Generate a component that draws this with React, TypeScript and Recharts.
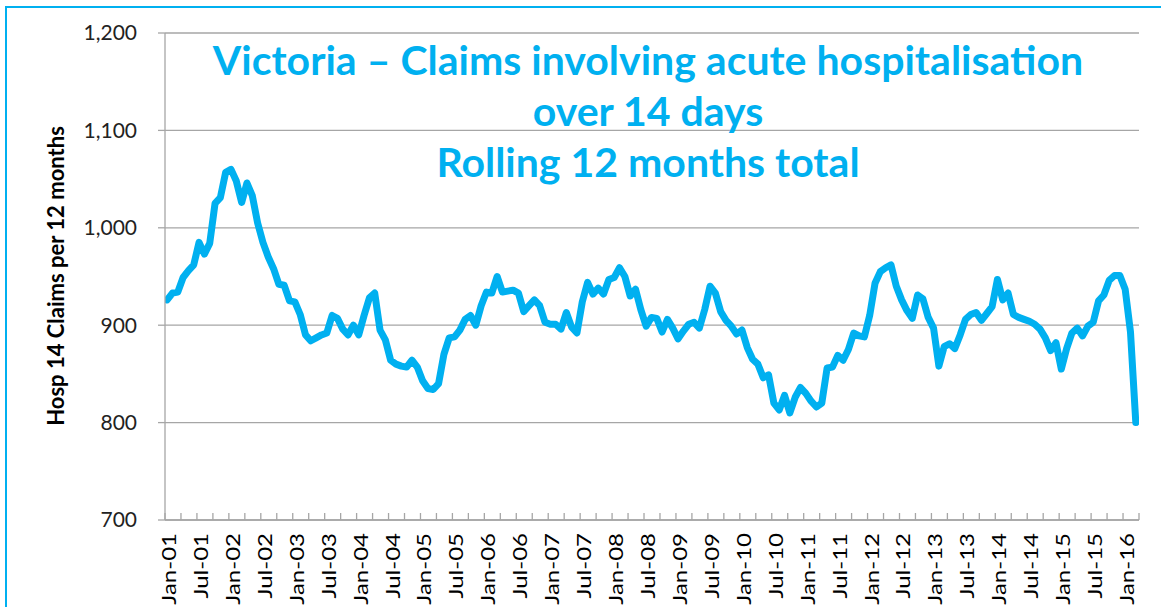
import { LineChart, Line, XAxis, YAxis, CartesianGrid } from 'recharts';

const CYAN = '#00b0f0';
const GRID = '#a6a6a6';
const FONT = 'Lato, "Open Sans", sans-serif';

// month labels shown on the axis, every 6 months
const tickLabels = [
  'Jan-01', 'Jul-01', 'Jan-02', 'Jul-02', 'Jan-03', 'Jul-03', 'Jan-04', 'Jul-04',
  'Jan-05', 'Jul-05', 'Jan-06', 'Jul-06', 'Jan-07', 'Jul-07', 'Jan-08', 'Jul-08',
  'Jan-09', 'Jul-09', 'Jan-10', 'Jul-10', 'Jan-11', 'Jul-11', 'Jan-12', 'Jul-12',
  'Jan-13', 'Jul-13', 'Jan-14', 'Jul-14', 'Jan-15', 'Jul-15', 'Jan-16',
];

// rolling 12 month totals, Jan-01 .. Mar-16
const hospClaims = [
  926, 933, 934, 949, 956, 962, 985, 973, 984, 1025, 1031, 1057,
  1060, 1048, 1026, 1046, 1033, 1005, 985, 970, 958, 942, 941, 925,
  924, 911, 890, 884, 887, 890, 892, 910, 907, 896, 890, 900,
  890, 910, 928, 933, 895, 885, 864, 860, 858, 857, 864, 857,
  843, 835, 834, 840, 870, 887, 888, 895, 906, 910, 900, 920,
  934, 933, 950, 934, 935, 936, 933, 914, 920, 926, 920, 903,
  901, 901, 896, 913, 898, 892, 924, 944, 932, 938, 932, 947,
  949, 959, 950, 930, 937, 916, 899, 908, 907, 893, 906, 897,
  886, 894, 901, 903, 897, 916, 940, 933, 914, 905, 899, 891,
  895, 877, 865, 860, 846, 849, 820, 813, 828, 810, 826, 836,
  830, 822, 816, 820, 856, 857, 869, 864, 875, 892, 889, 888,
  910, 943, 955, 959, 962, 940, 926, 915, 907, 931, 927, 908,
  897, 858, 878, 881, 876, 890, 906, 911, 913, 905, 912, 919,
  947, 926, 933, 911, 908, 906, 904, 901, 896, 887, 874, 882,
  855, 876, 892, 897, 889, 899, 903, 925, 931, 946, 951, 951,
  937, 893, 800,
];

const yTicks = [700, 800, 900, 1000, 1100, 1200];

const data = hospClaims.map((v, i) => ({ i, v }));

// tick marks every quarter, starting half a slot before the first month
const xTicks = Array.from({ length: 62 }, (_, k) => -0.4 + 3 * k);

function MonthTick(props: any) {
  const { x, y, payload } = props;
  const k = Math.round((payload.value + 0.4) / 3);
  const label = k % 2 === 0 ? tickLabels[k / 2] : null;
  return (
    <g>
      <line x1={x} y1={y} x2={x} y2={y - 7} stroke={GRID} strokeWidth={1.3} />
      {label && (
        <text
          transform={`translate(${x + 11},${y + 13}) rotate(-90) scale(1.2, 1)`}
          textAnchor="end"
          fontSize={20}
          fontFamily={FONT}
          fill="#000"
        >
          {label}
        </text>
      )}
    </g>
  );
}

export default function App() {
  return (
    <div
      style={{
        position: 'fixed',
        left: 0,
        top: 0,
        width: 1161,
        height: 607,
        overflow: 'hidden',
        background: '#fff',
        fontFamily: FONT,
      }}
    >
      <div
        style={{
          position: 'absolute',
          left: 5,
          top: 6,
          width: 1400,
          height: 900,
          border: `2px solid ${CYAN}`,
        }}
      />
      <div style={{ position: 'absolute', left: 0, top: 0 }}>
        <LineChart width={1161} height={607} data={data} margin={{ top: 33, right: 22, left: 85, bottom: 27 }}>
          <CartesianGrid vertical={false} stroke={GRID} strokeWidth={1.3} />
          <XAxis
            dataKey="i"
            type="number"
            domain={[-0.4, 182.6]}
            ticks={xTicks}
            interval={0}
            tickSize={0}
            tickMargin={0}
            tickLine={false}
            axisLine={{ stroke: GRID, strokeWidth: 1.3 }}
            tick={<MonthTick />}
            height={60}
            allowDataOverflow
          />
          <YAxis
            domain={[700, 1200]}
            ticks={yTicks}
            width={80}
            tickSize={7}
            tickMargin={21}
            tickLine={{ stroke: GRID, strokeWidth: 1.3 }}
            axisLine={{ stroke: GRID, strokeWidth: 1.3 }}
            tick={{ fill: '#222', fontSize: 21, fontFamily: FONT }}
            tickFormatter={(v) => Number(v).toLocaleString('en-US')}
          />
          <Line
            dataKey="v"
            type="linear"
            stroke={CYAN}
            strokeWidth={7}
            strokeLinejoin="round"
            strokeLinecap="round"
            dot={false}
            isAnimationActive={false}
          />
        </LineChart>
      </div>
      <div
        style={{
          position: 'absolute',
          left: 648,
          top: 34,
          transform: 'translateX(-50%)',
          color: CYAN,
          fontWeight: 700,
          fontSize: 41,
          lineHeight: '51px',
          textAlign: 'center',
          whiteSpace: 'nowrap',
        }}
      >
        <div>Victoria – Claims involving acute hospitalisation</div>
        <div>over 14 days</div>
        <div>Rolling 12 months total</div>
      </div>
      <div
        style={{
          position: 'absolute',
          left: 55,
          top: 276,
          transform: 'translate(-50%, -50%) rotate(-90deg)',
          fontWeight: 700,
          fontSize: 22,
          whiteSpace: 'nowrap',
          color: '#000',
        }}
      >
        Hosp 14 Claims per 12 months
      </div>
    </div>
  );
}
